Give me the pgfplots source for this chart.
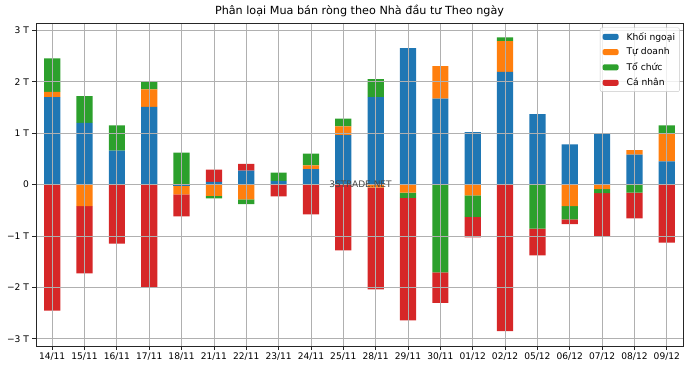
\documentclass[border=0pt]{standalone}
\usepackage{pgfplots}
\pgfplotsset{compat=1.18}
\usepackage{pgfplotstable}
\usepackage{fontspec}
\setmainfont{DejaVu Sans}
\definecolor{cK}{HTML}{1F77B4}
\definecolor{cT}{HTML}{FF7F0E}
\definecolor{cO}{HTML}{2CA02C}
\definecolor{cC}{HTML}{D62728}
\definecolor{gridc}{HTML}{B0B0B0}
\pgfplotstableread{
x K T O C
0 1.70 0.10 0.65 0
1 1.20 0 0.52 0
2 0.66 0 0.49 0
3 1.51 0.34 0.15 0
4 0 0 0.62 0
5 0.05 0 0 0.24
6 0.27 0 0 0.13
7 0.07 0 0.16 0
8 0.30 0.07 0.23 0
9 0.96 0.17 0.15 0
10 1.70 0 0.35 0
11 2.65 0 0 0
12 1.67 0.63 0 0
13 1.02 0 0 0
14 2.19 0.60 0.07 0
15 1.37 0 0 0
16 0.78 0 0 0
17 1.00 0 0 0
18 0.58 0.09 0 0
19 0.45 0.55 0.15 0
}\pos
\pgfplotstableread{
x K T O C
0 0 0 0 -2.45
1 0 -0.42 0 -1.31
2 0 0 0 -1.15
3 0 0 0 -2.00
4 -0.03 -0.16 0 -0.43
5 0 -0.22 -0.05 0
6 0 -0.29 -0.09 0
7 0 0 0 -0.23
8 0 0 0 -0.58
9 0 0 0 -1.28
10 0 -0.06 0 -1.98
11 0 -0.16 -0.10 -2.38
12 0 0 -1.71 -0.59
13 0 -0.21 -0.42 -0.40
14 0 0 0 -2.85
15 0 0 -0.86 -0.52
16 0 -0.42 -0.26 -0.09
17 0 -0.09 -0.08 -0.83
18 0 0 -0.16 -0.50
19 0 0 0 -1.13
}\neg
\begin{document}
\begin{tikzpicture}[x=1pt,y=1pt]
\path[use as bounding box] (-36,-22) rectangle (654,346);
\pgfplotsset{common/.style={scale only axis, width=647pt, height=323pt,
  xmin=-0.5, xmax=19.5, ymin=-3.14, ymax=3.14, ybar stacked, bar width=0.5,
  at={(0,0)}, anchor=south west}}
\begin{axis}[common, hide axis]
\addplot[fill=cK, draw=none] table[x=x,y=K]{\pos};
\addplot[fill=cT, draw=none] table[x=x,y=T]{\pos};
\addplot[fill=cO, draw=none] table[x=x,y=O]{\pos};
\addplot[fill=cC, draw=none] table[x=x,y=C]{\pos};
\end{axis}
\begin{axis}[common, axis on top,
  legend image code/.code={\fill[#1, fill opacity=1] (0pt,-3pt) rectangle (16pt,3pt); \path (22pt,0pt);},
  grid=major, major grid style={gridc, line width=0.8pt},
  axis line style={line width=0.8pt, black!85},
  tick align=outside, tick pos=left, major tick length=3.5pt,
  tick style={line width=0.8pt, black!85},
  xtick={0,...,19},
  xticklabels={14/11,15/11,16/11,17/11,18/11,21/11,22/11,23/11,24/11,25/11,28/11,29/11,30/11,01/12,02/12,05/12,06/12,07/12,08/12,09/12},
  ytick={-3,-2,-1,0,1,2,3},
  yticklabels={−3 T,−2 T,−1 T,0,1 T,2 T,3 T},
  ticklabel style={font=\fontsize{9.1}{10.9}\selectfont},
  title={Phân loại Mua bán ròng theo Nhà đầu tư Theo ngày},
  title style={font=\fontsize{11.2}{13.4}\selectfont, yshift=-3.5pt},
  legend style={at={(0.995,0.986)}, anchor=north east, draw=gridc!70, rounded corners=2pt,
    fill=white, fill opacity=0.8, text opacity=1, draw opacity=1, font=\fontsize{9.2}{11}\selectfont,
    row sep=2.3pt, inner sep=2.5pt},
  legend cell align=left]
\addplot[fill=cK, draw=none] table[x=x,y=K]{\neg};
\addlegendentry{Khối ngoại}
\addplot[fill=cT, draw=none] table[x=x,y=T]{\neg};
\addlegendentry{Tự doanh}
\addplot[fill=cO, draw=none] table[x=x,y=O]{\neg};
\addlegendentry{Tổ chức}
\addplot[fill=cC, draw=none] table[x=x,y=C]{\neg};
\addlegendentry{Cá nhân}
\coordinate (wm) at (axis cs:9.53,0);
\end{axis}
\node[text=black!72, font=\fontsize{9}{10.8}\selectfont] at (wm) {3STRADE.NET};
\end{tikzpicture}
\end{document}
